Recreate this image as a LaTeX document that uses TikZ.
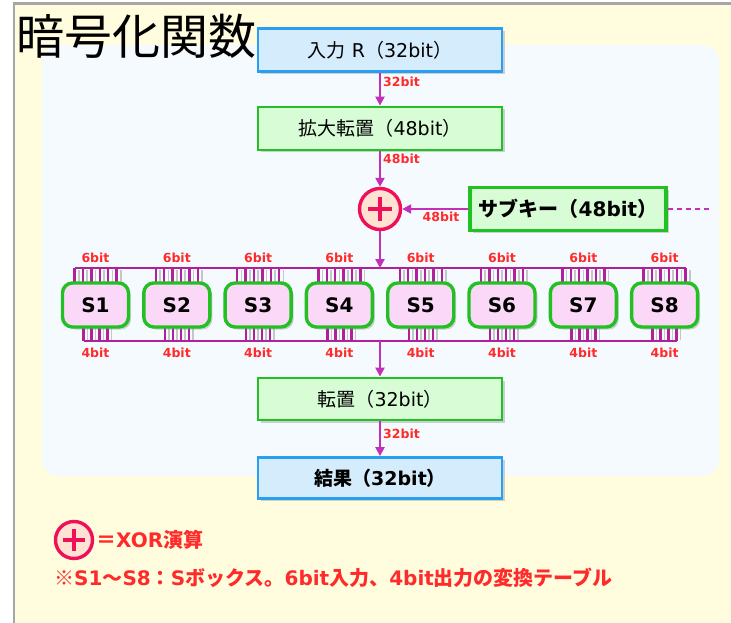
\documentclass[tikz,border=0pt]{standalone}
\usepackage{fontspec}
\setmainfont{DejaVu Sans}
\newfontfamily\jp{Noto Sans CJK JP}
\usetikzlibrary{arrows.meta,calc,shadows}
\definecolor{bgyellow}{HTML}{FFFDDE}
\definecolor{panelc}{HTML}{F5FAFF}
\definecolor{bluefill}{HTML}{D5ECFC}
\definecolor{blueline}{HTML}{2A9EF0}
\definecolor{greenfill}{HTML}{D8FCD6}
\definecolor{greenline}{HTML}{22C022}
\definecolor{pinkfill}{HTML}{FCD8F8}
\definecolor{arrowc}{HTML}{C22FB8}
\definecolor{wirec}{HTML}{B0209A}
\definecolor{labred}{HTML}{FF2A2A}
\definecolor{xorline}{HTML}{F0105A}
\definecolor{xorfill}{HTML}{FFE2D2}
\newcommand\J[1]{{\jp #1}}
\begin{document}
\begin{tikzpicture}[x=1pt,y=-1pt,
  shade/.style={drop shadow={shadow xshift=2.5pt,shadow yshift=-2.5pt,opacity=0.35,fill=gray}},
  box/.style={draw, line width=2.8pt, minimum width=244pt, minimum height=43pt, inner sep=0pt, shade, font=\fontsize{19}{21}\selectfont},
  bluebox/.style={box, fill=bluefill, draw=blueline},
  greenbox/.style={box, fill=greenfill, draw=greenline},
  sbox/.style={draw=greenline, fill=pinkfill, line width=3.4pt, rounded corners=10pt, minimum width=66pt, minimum height=44pt, inner sep=0pt, shade, font=\bfseries\fontsize{20}{22}\selectfont},
  xorc/.style={circle, draw=xorline, fill=xorfill, line width=3.4pt, inner sep=0pt},
  arr/.style={draw=arrowc, line width=2.2pt, -{Triangle[length=9pt,width=9pt]}},
  wire/.style={draw=wirec, line width=2.4pt},
  wshade/.style={draw=gray!45, line width=1.6pt},
  lab/.style={text=labred, font=\bfseries\fontsize{12.5}{13}\selectfont, inner sep=0pt},
  note/.style={text=labred, font=\bfseries\fontsize{20}{22}\selectfont, inner sep=0pt, anchor=west}
]
\useasboundingbox (0,0) rectangle (731,623);
% background
\fill[white] (0,0) rectangle (731,623);
\fill[bgyellow] (14,3) rectangle (731,623);
\draw[gray!70, line width=2.5pt] (14,623) -- (14,3.5) -- (731,3.5);
\fill[panelc, rounded corners=16pt] (42,45) rectangle (719,476);
% title
\node[anchor=base west, inner sep=0pt, font=\jp\fontsize{48}{48}\selectfont] (title) at (16,55) {暗号化関数};
% main boxes
\node[bluebox, font=\fontsize{19}{21}\selectfont] (in) at (380,50) {\J{入力}\ R\J{（}32bit\J{）}};
\node[greenbox] (exp) at (380,128.5) {\J{拡大転置（}48bit\J{）}};
\node[xorc, minimum size=41pt] (x) at (380,209) {};
\draw[xorline, line width=3.4pt] ($(x.center)+(-12,0)$) -- ($(x.center)+(12,0)$) ($(x.center)+(0,-12)$) -- ($(x.center)+(0,12)$);
\node[greenbox, minimum width=196pt, line width=3.4pt, font=\bfseries\fontsize{20}{22}\selectfont] (sk) at (568,209) {\J{サブキー（}48bit\J{）}};
\coordinate (dashend) at (710,209);
\node[greenbox, minimum height=42pt] (perm) at (380,399) {\J{転置（}32bit\J{）}};
\node[bluebox, minimum height=41pt, font=\bfseries\fontsize{19}{21}\selectfont] (res) at (380,478) {\J{結果（}32bit\J{）}};
% bus coordinates
\coordinate (topbus) at (380,268);
\coordinate (botbus) at (380,341);
% wires and s-boxes
\foreach \i in {1,...,8} {
  \pgfmathsetmacro{\cx}{95.5+81.3*(\i-1)}
  \foreach \o in {-21,-12.6,-4.2,4.2,12.6,21} {
    \draw[wshade] (\cx+\o+4.2,270) -- (\cx+\o+4.2,284);
    \draw[wire] (\cx+\o,268) -- (\cx+\o,284);
  }
  \foreach \o in {-12,-4,4,12} {
    \draw[wshade] (\cx+\o+4,327) -- (\cx+\o+4,340);
    \draw[wire] (\cx+\o,326) -- (\cx+\o,341);
  }
  \node[sbox] (s\i) at (\cx,305) {S\i};
  \node[lab] (six\i) at (\cx,258) {6bit};
  \node[lab] (four\i) at (\cx,353) {4bit};
}
\draw[wire] (74.5,268) -- (topbus) -- (685.6,268);
\draw[wire] (83.5,341) -- (botbus) -- (676.6,341);
% arrows
\draw[arr] (in.south) -- (exp.north);
\node[lab, anchor=west] (l1) at (383,82) {32bit};
\draw[arr] (exp.south) -- (x.north);
\node[lab, anchor=west] (l2) at (383,159) {48bit};
\draw[arr] (sk.west) -- (x.east);
\node[lab] (l3) at (441,217) {48bit};
\draw[draw=arrowc, line width=2.2pt, dash pattern=on 5pt off 4pt] (sk.east) -- (dashend);
\draw[arr] (x.south) -- (topbus);
\draw[arr] (botbus) -- (perm.north);
\draw[arr] (perm.south) -- (res.north);
\node[lab, anchor=west] (l4) at (383,434) {32bit};
% legend
\node[xorc, minimum size=37pt] (lx) at (74,540) {};
\draw[xorline, line width=3.4pt] ($(lx.center)+(-11,0)$) -- ($(lx.center)+(11,0)$) ($(lx.center)+(0,-11)$) -- ($(lx.center)+(0,11)$);
\node[note] (n1) at (96,540) {\J{＝}XOR\J{演算}};
\node[note] (n2) at (54,578) {\J{※}S1\J{～}S8\J{：}S\J{ボックス。}6bit\J{入力、}4bit\J{出力の変換テーブル}};
\end{tikzpicture}
\end{document}
